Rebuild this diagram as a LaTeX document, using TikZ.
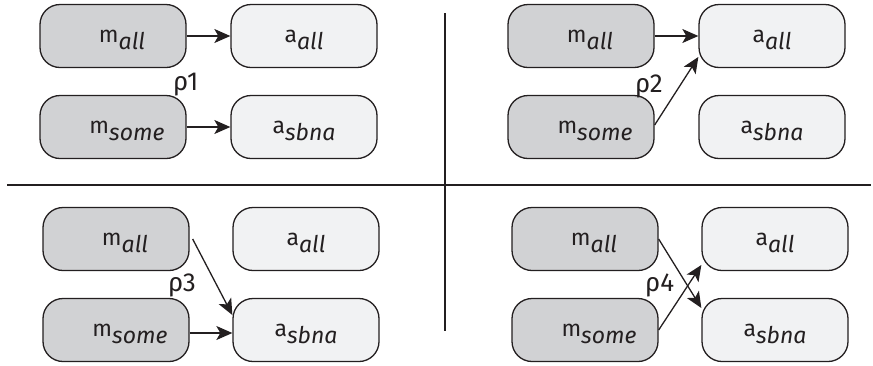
\documentclass[tikz,border=0pt]{standalone}
\usepackage{fontspec}
\setmainfont{Fira Sans}
\usetikzlibrary{arrows.meta}
\definecolor{mfill}{HTML}{D1D2D4}
\definecolor{afill}{HTML}{F1F2F3}
\definecolor{ink}{HTML}{231F20}
\newcommand{\sublab}[2]{#1\smash{\raisebox{-7pt}{\itshape #2}}}
\newcommand{\rholab}[1]{\fontsize{26}{26}\selectfont ρ#1}
\tikzset{
  box/.style={draw=ink, line width=1.3pt, rounded corners=20pt, minimum width=146pt, minimum height=63pt, inner sep=0pt,
    font=\fontsize{23}{23}\selectfont, text=ink},
  mbox/.style={box, fill=mfill},
  abox/.style={box, fill=afill},
  conn/.style={draw=ink, line width=1.3pt, -{Stealth[length=16pt,width=14pt,inset=4pt]}},
  rho/.style={text=ink, anchor=base west, inner sep=0pt},
  divider/.style={draw=ink, line width=1.8pt}
}
\begin{document}
\begin{tikzpicture}[x=1pt,y=-1pt]
\useasboundingbox (0,0) rectangle (873,365);
% dividers
\coordinate (hl) at (7,185);
\coordinate (hr) at (871,185);
\coordinate (vt) at (445,13);
\coordinate (vb) at (445,331);
\draw[divider] (hl) -- (hr);
\draw[divider] (vt) -- (vb);
% panel 1
\node[mbox] (m1a) at (113,36) {\hspace*{18pt}\sublab{m}{all}};
\node[abox] (a1a) at (304,36) {\sublab{a}{all}};
\node[mbox] (m1s) at (113,127) {\hspace*{28pt}\sublab{m}{some}};
\node[abox] (a1s) at (304,127) {\sublab{a}{sbna}};
\node[rho] (r1) at (173,90) {\rholab{1}};
\draw[conn] (m1a.east) -- (a1a.west);
\draw[conn] (m1s.east) -- (a1s.west);
% panel 2
\node[mbox] (m2a) at (581,36) {\hspace*{18pt}\sublab{m}{all}};
\node[abox] (a2a) at (772,36) {\sublab{a}{all}};
\node[mbox] (m2s) at (581,127) {\hspace*{28pt}\sublab{m}{some}};
\node[abox] (a2s) at (772,127) {\sublab{a}{sbna}};
\node[rho] (r2) at (635,92) {\rholab{2}};
\draw[conn] (m2a.east) -- (a2a.west);
\draw[conn] ([yshift=2pt]m2s.east) -- ([yshift=-21pt]a2a.west);
% panel 3
\node[mbox] (m3a) at (116,239) {\hspace*{18pt}\sublab{m}{all}};
\node[abox] (a3a) at (306,239) {\sublab{a}{all}};
\node[mbox] (m3s) at (116,330) {\hspace*{28pt}\sublab{m}{some}};
\node[abox] (a3s) at (306,330) {\sublab{a}{sbna}};
\node[rho] (r3) at (168,291) {\rholab{3}};
\draw[conn] ([xshift=3pt]m3a.east) -- ([yshift=15pt]a3s.west);
\draw[conn] ([yshift=-3pt]m3s.east) -- ([yshift=-3pt]a3s.west);
% panel 4
\node[mbox] (m4a) at (585,239) {\hspace*{18pt}\sublab{m}{all}};
\node[abox] (a4a) at (775,239) {\sublab{a}{all}};
\node[mbox] (m4s) at (585,330) {\hspace*{28pt}\sublab{m}{some}};
\node[abox] (a4s) at (775,330) {\sublab{a}{sbna}};
\node[rho] (r4) at (645,291) {\rholab{4}};
\draw[conn] (m4a.east) -- ([yshift=22pt]a4s.west);
\draw[conn] (m4s.east) -- ([yshift=-26pt]a4a.west);
\end{tikzpicture}
\end{document}
